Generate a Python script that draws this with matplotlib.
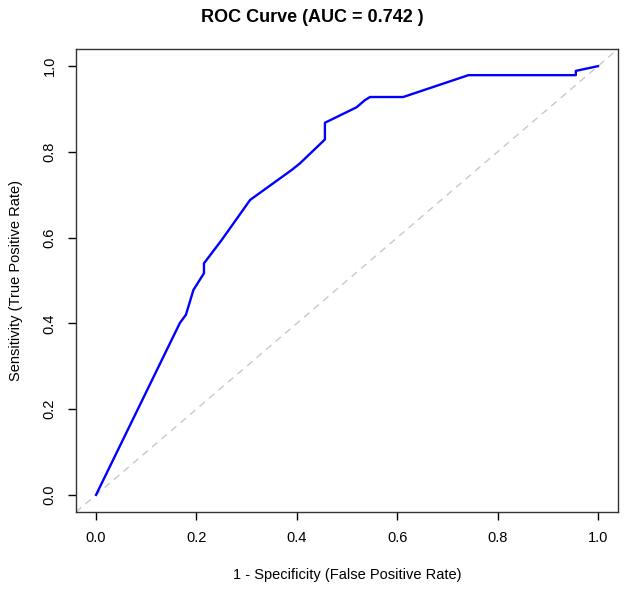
import numpy as np
import matplotlib.pyplot as plt

# ROC curve points
fpr = [0.0, 0.167, 0.179, 0.194, 0.215, 0.215, 0.25, 0.307, 0.39, 0.406,
       0.456, 0.456, 0.519, 0.536, 0.546, 0.612, 0.742, 0.956, 0.956, 1.0]
tpr = [0.0, 0.401, 0.42, 0.478, 0.517, 0.54, 0.594, 0.688, 0.758, 0.773,
       0.829, 0.868, 0.904, 0.921, 0.928, 0.928, 0.979, 0.979, 0.989, 1.0]
auc = 0.742
ticks = [0.0, 0.2, 0.4, 0.6, 0.8, 1.0]

plt.rcParams['font.family'] = ['Liberation Sans', 'DejaVu Sans']

fig = plt.figure(figsize=(6.24, 5.91), dpi=100)
ax = fig.add_axes([76 / 624, 79 / 591, 542 / 624, 463 / 591])

ax.axline((0, 0), (1, 1), color='#c8c8c8', lw=1.0, ls=(0, (5, 4)))
ax.plot(fpr, tpr, color='#0000ff', lw=1.7)

ax.set_xlim(-0.04, 1.04)
ax.set_ylim(-0.04, 1.04)
ax.set_xticks(ticks)
ax.set_yticks(ticks)
ax.set_xticklabels([f"{t:.1f}" for t in ticks], fontsize=10.5)
ax.set_yticklabels([f"{t:.1f}" for t in ticks], fontsize=10.5, rotation=90, va='center')
ax.tick_params(direction='out', length=6, width=1, pad=8)
for s in ax.spines.values():
    s.set_linewidth(1.0)
    s.set_color('#333333')

ax.set_xlabel('1 - Specificity (False Positive Rate)', fontsize=10.5, labelpad=16)
ax.set_ylabel('Sensitivity (True Positive Rate)', fontsize=10.5, labelpad=14)
fig.suptitle(f'ROC Curve (AUC = {auc} )', fontsize=13, fontweight='bold', y=0.985, x=0.5)

fig.savefig('out.png', dpi=100, facecolor='white')
